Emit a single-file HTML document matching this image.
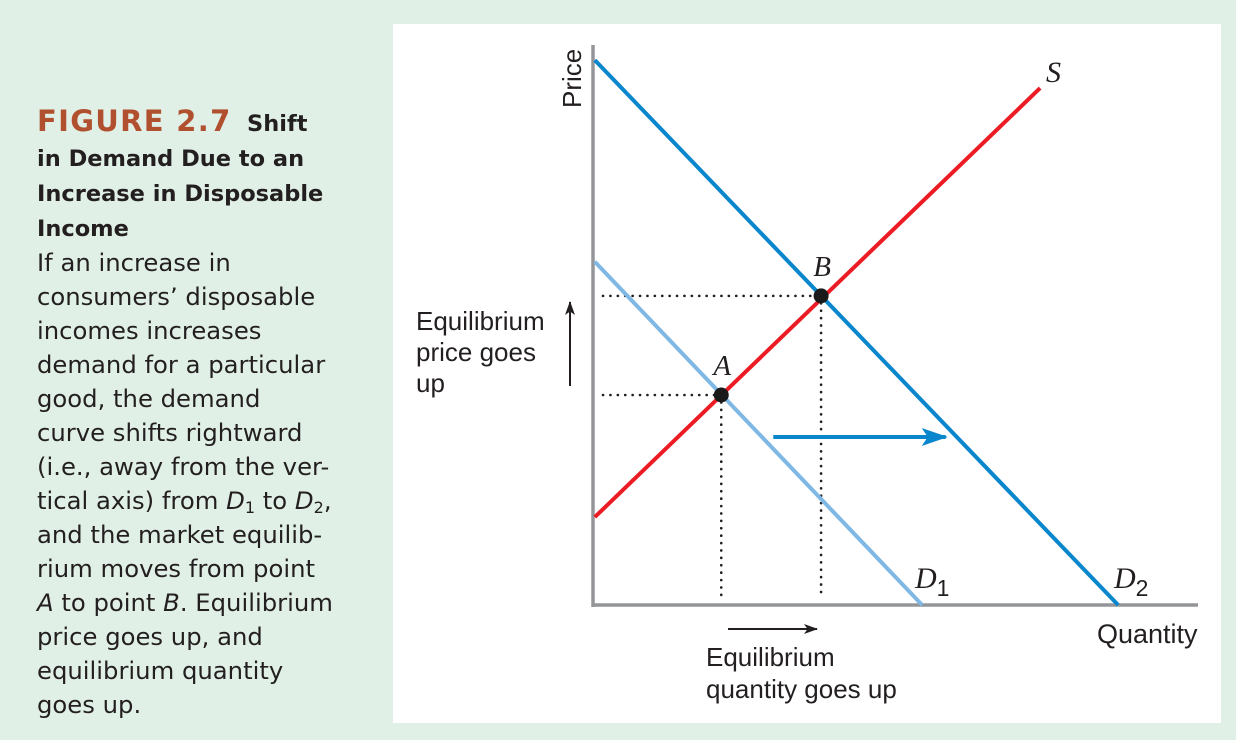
<!DOCTYPE html>
<html><head><meta charset="utf-8"><style>
html,body{margin:0;padding:0;}
body{width:1236px;height:740px;background:#e1f0e6;position:relative;overflow:hidden;font-family:"Liberation Sans","DejaVu Sans",sans-serif;}
#caption{position:absolute;left:37px;top:104px;width:340px;color:#231f20;font-family:"DejaVu Sans",sans-serif;font-size:24.3px;line-height:34px;white-space:nowrap;}
#caption .fig{color:#b0502e;font-weight:bold;font-size:29px;letter-spacing:1.3px;}
#caption .t{font-weight:bold;font-size:22.5px;}
#caption sub{font-size:16px;line-height:0;vertical-align:-4px;}
#panel{position:absolute;left:393px;top:24px;width:828px;height:699px;background:#fff;}
svg{position:absolute;left:0;top:0;}
</style></head><body>
<div id="caption"><span class="fig">FIGURE 2.7</span>&nbsp;&nbsp;<span class="t">Shift<br>in Demand Due to an<br>Increase in Disposable<br>Income</span><br><span>If an increase in<br>consumers’ disposable<br>incomes increases<br>demand for a particular<br>good, the demand<br>curve shifts rightward<br>(i.e., away from the ver-<br>tical axis) from <i>D</i><sub>1</sub> to <i>D</i><sub>2</sub>,<br>and the market equilib-<br>rium moves from point<br><i>A</i> to point <i>B</i>. Equilibrium<br>price goes up, and<br>equilibrium quantity<br>goes up.</span></div>
<div id="panel"></div>
<svg id="chart" width="1236" height="740"></svg>
<script>
const lineNames=["S","D1","D2"];
const lineStartQ=[0.3,0.3,0.3];
const lineStartP=[15.7,61.3,97.3];
const lineEndQ=[73.9,54.4,86.8];
const lineEndP=[92.3,0,0];
const pointNames=["A","B"];
const pointQ=[21.2,37.7];
const pointP=[37.5,55.2];
const shiftArrowQ=[29.8,58.3];
const shiftArrowP=30;

const X0=593,XS=6.05,Y0=605,YS=5.6;
const xs=q=>X0+q*XS, ys=p=>Y0-p*YS;
const NS="http://www.w3.org/2000/svg";
const svg=document.getElementById('chart');
function mk(tag,attrs,parent){const e=document.createElementNS(NS,tag);for(const k in attrs)e.setAttribute(k,attrs[k]);(parent||svg).appendChild(e);return e;}

const defs=mk('defs',{});
const m1=mk('marker',{id:'ah',markerWidth:14,markerHeight:10,refX:13,refY:5,orient:'auto',markerUnits:'userSpaceOnUse'},defs);
mk('path',{d:'M0,0 L14,5 L0,10 L3.5,5 Z',fill:'#231f20'},m1);
const m2=mk('marker',{id:'ahb',markerWidth:26,markerHeight:18,refX:24,refY:9,orient:'auto',markerUnits:'userSpaceOnUse'},defs);
mk('path',{d:'M0,0 L26,9 L0,18 L6,9 Z',fill:'#0a86cc'},m2);

for(let i=0;i<pointQ.length;i++){
  const h=mk('line',{x1:603,y1:ys(pointP[i]),x2:xs(pointQ[i]),y2:ys(pointP[i]),stroke:'#231f20','stroke-width':2.6,'stroke-dasharray':'0.1 7.3','stroke-linecap':'round'});
  
  
  const v=mk('line',{x1:xs(pointQ[i]),y1:ys(pointP[i]),x2:xs(pointQ[i]),y2:Y0-6,stroke:'#231f20','stroke-width':2.6,'stroke-dasharray':'0.1 7.3','stroke-linecap':'round'});
  
  
}
const ya=mk('line',{x1:X0,y1:45,x2:X0,y2:Y0+2,stroke:'#939598','stroke-width':3.5});


const xa=mk('line',{x1:X0-1,y1:Y0,x2:1198,y2:Y0,stroke:'#939598','stroke-width':3.5});



const colors=['#ec1c24','#7fb8e4','#0a86cc'];
const order=[1,2,0];
for(const i of order){
  const l=mk('line',{x1:xs(lineStartQ[i]),y1:ys(lineStartP[i]),x2:xs(lineEndQ[i]),y2:ys(lineEndP[i]),stroke:colors[i],'stroke-width':4});
  
  
}
const sa=mk('line',{x1:xs(shiftArrowQ[0]),y1:ys(shiftArrowP),x2:xs(shiftArrowQ[1]),y2:ys(shiftArrowP),stroke:'#0a86cc','stroke-width':4,'marker-end':'url(#ahb)'});



for(let i=0;i<pointQ.length;i++){
  const c=mk('circle',{cx:xs(pointQ[i]),cy:ys(pointP[i]),r:7.5,fill:'#1a1a1a'});
  
  
  const t=mk('text',{x:xs(pointQ[i])+1,y:ys(pointP[i])-20,'text-anchor':'middle','font-family':'Liberation Serif, serif','font-style':'italic','font-size':29,fill:'#231f20'});
  t.textContent=pointNames[i];
  
  
}
function label(txt,sub,x,y,name){
  const t=mk('text',{x:x,y:y,'font-family':'Liberation Serif, serif','font-style':'italic','font-size':30,fill:'#231f20'});
  t.textContent=txt;
  if(sub){const s=mk('tspan',{dy:8,'font-family':'Liberation Sans, sans-serif','font-style':'normal','font-size':23},t);s.textContent=sub;}
  
  
}
label('S','',1046,82,'label-S');
label('D','1',915,588,'label-D1');
label('D','2',1114,588,'label-D2');

function txt(s,x,y,name,extra){
  const t=mk('text',Object.assign({x:x,y:y,'font-family':'Liberation Sans, sans-serif','font-size':26,fill:'#231f20'},extra||{}));
  t.textContent=s;
  
  
  return t;
}
txt('Price',581,108,'y-axis-title',{transform:'rotate(-90 581 108)'});
txt('Quantity',1097,643,'x-axis-title',{'font-size':27});
txt('Equilibrium',416,330,'price-note-line1');
txt('price goes',416,361,'price-note-line2');
txt('up',416,392,'price-note-line3');
txt('Equilibrium',706,666,'quantity-note-line1');
txt('quantity goes up',706,698,'quantity-note-line2');
const pa=mk('line',{x1:570,y1:386,x2:570,y2:302,stroke:'#231f20','stroke-width':2,'marker-end':'url(#ah)'});


const qa=mk('line',{x1:728,y1:629,x2:817,y2:629,stroke:'#231f20','stroke-width':2,'marker-end':'url(#ah)'});


</script>
</body></html>
